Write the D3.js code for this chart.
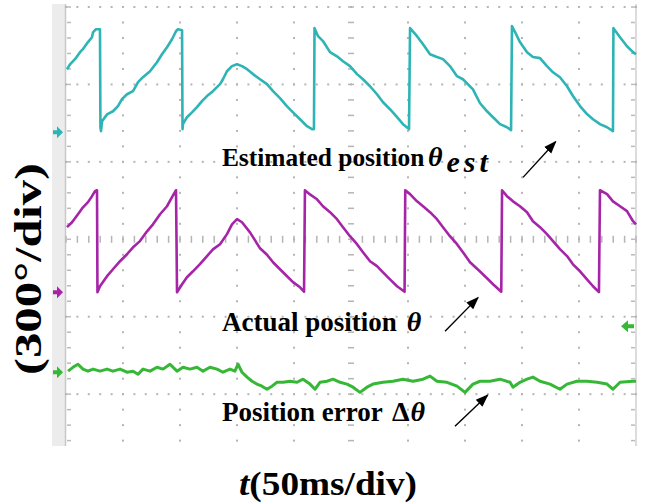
<!DOCTYPE html>
<html><head><meta charset="utf-8">
<script src="https://cdn.jsdelivr.net/npm/d3@7"></script>
<style>body{margin:0;background:#fff}svg{display:block}</style>
</head><body>
<svg id="c" width="645" height="503"></svg>
<script>
// time axis: 50 ms/div, angle axis: 300 deg/div
const timeTicks = [0,50,100,150,200,250,300,350,400,450,500];
const angleTicks = [-600,-300,0,300,600,900];
const timeLabel = "(50ms/div)";
const angleLabel = "(300°/div)";

// channel reference levels (deg on screen)
const cyanOffset = 415, magentaOffset = -205, greenOffset = -515, triggerLevel = -337;

// estimated position [ms, deg]
const thetaEst = [[0.9,244],[3.5,263],[7.9,283],[12.3,310],[14.9,322],[19.3,349],[22.8,368],[23.7,387],[26.3,399],[29.8,399],
[30.2,19],[30.7,4],
[31.6,42],[36.0,69],[41.2,81],[45.6,101],[49.1,128],[53.5,147],[58.8,159],[63.2,194],[67.5,213],[73.7,236],[79.8,271],[84.2,302],[88.6,329],[93.0,360],[96.5,391],[98.2,399],[101.8,395],
[102.2,12],
[102.6,31],[106.1,58],[110.5,77],[114.9,97],[119.3,120],[123.7,140],[128.9,159],[135.1,186],[137.7,205],[141.2,236],[145.6,256],[150.0,263],[154.4,256],[158.8,244],[164.0,225],[170.2,205],[176.3,186],[181.6,159],[187.7,132],[193.9,100],[199.1,77],[205.3,50],[211.4,23],[215.8,12],[217.5,12],
[218.0,403],
[221.1,372],[225.4,353],[231.6,310],[237.7,294],[243.0,275],[249.1,256],[255.3,225],[260.5,205],[266.7,178],[272.8,147],[278.1,116],[284.2,89],[290.4,58],[295.6,31],[300.9,12],
[301.8,403],
[307.9,372],[313.2,341],[319.3,302],[325.4,291],[330.7,283],[336.8,256],[343.0,217],[348.2,205],[357.0,166],[363.2,112],[369.3,81],[374.6,58],[380.7,31],[386.8,19],[390.4,8],
[391.2,411],
[393.9,388],[398.2,349],[404.4,310],[409.6,291],[415.8,287],[421.9,256],[427.2,232],[433.3,213],[439.5,178],[444.7,140],[450.9,101],[457.0,70],[462.3,50],[468.4,31],[474.6,19],[479.8,4],
[480.2,403],
[486.0,368],[492.1,333],[497.4,310],[500,302]];

// actual position [ms, deg]
const thetaAct = [[0.9,252],[5.3,271],[10.5,302],[14.9,329],[19.3,349],[22.8,372],[25.4,391],[27.2,395],
[27.6,0],
[29.8,23],[36.0,62],[41.2,89],[47.4,120],[53.5,147],[58.8,174],[64.9,198],[71.1,236],[76.3,263],[82.5,302],[88.6,333],[93.0,368],[96.5,395],
[97.4,0],
[101.8,31],[106.1,58],[111.4,81],[117.5,109],[123.7,140],[128.9,166],[135.1,186],[141.2,225],[145.6,263],[150.0,283],[154.4,271],[161.4,232],[170.2,170],[176.3,145],[181.6,116],[187.7,89],[193.9,62],[199.1,39],[205.3,19],[208.8,2],
[209.6,395],
[214.0,379],[220.2,360],[225.4,333],[231.6,310],[237.7,283],[243.0,252],[249.1,217],[255.3,186],[260.5,155],[266.7,120],[272.8,101],[278.1,77],[284.2,50],[290.4,23],[297.0,2],
[297.6,395],
[301.8,380],[307.9,352],[313.2,333],[319.3,310],[325.4,283],[330.7,252],[336.8,217],[343.0,186],[348.2,155],[354.4,116],[363.2,80],[369.3,54],[374.6,31],[381.8,2],
[382.5,395],
[386.8,372],[392.1,352],[398.2,333],[404.4,310],[409.6,275],[415.8,252],[421.9,225],[427.2,198],[433.3,167],[439.5,140],[444.7,108],[450.9,81],[457.0,50],[462.3,23],[467.5,0],
[468.4,395],
[474.6,380],[479.8,352],[486.0,333],[492.1,314],[497.4,275],[500,263]];

// position error [ms, deg]
const thetaErr = [[1.8,4],[6.1,19],[10.5,31],[14.9,12],[19.3,4],[23.7,12],[29.8,4],[36.0,12],[41.2,4],[47.4,12],[53.5,0],[58.8,4],[63.2,-8],[67.5,12],[73.7,4],[79.8,19],[85.1,12],[91.2,31],[97.4,4],[102.6,19],[108.8,12],[114.9,19],[120.2,4],[126.3,19],[132.5,12],[137.7,0],[143.9,12],[148.2,4],[150.9,31],[154.4,0],[158.8,-19],[163.2,-35],[167.5,-46],[171.9,-54],[176.3,-66],[180.7,-54],[185.1,-39],[190.4,-39],[196.5,-35],[202.6,-39],[207.9,-27],[214.0,-46],[218.4,-66],[222.8,-39],[228.9,-35],[234.2,-27],[240.4,-39],[246.5,-46],[251.8,-58],[257.9,-78],[264.0,-58],[269.3,-46],[278.1,-39],[286.8,-35],[295.6,-27],[304.4,-35],[313.2,-27],[319.3,-15],[325.4,-35],[334.2,-39],[343.0,-54],[350.0,-78],[357.0,-46],[363.2,-35],[371.9,-35],[380.7,-27],[389.5,-39],[392.1,-58],[398.2,-39],[404.4,-27],[409.6,-19],[415.8,-35],[424.6,-46],[433.3,-66],[439.5,-46],[448.2,-35],[457.0,-35],[465.8,-39],[474.6,-46],[479.8,-66],[486.0,-39],[497.4,-35],[500,-35]];

// annotations in data units
const labels = [
  {t:136.8, a:283, main:"Estimated position", size:25.4, symT:317.5, sym:"θ", sub:"est"},
  {t:136.8, a:-356, main:"Actual position", size:27, symT:299, sym:"θ"},
  {t:136.8, a:-705, main:"Position error", size:27, symT:286, pre:"Δ", sym:"θ"}
];
const arrows = [
  {t0:400.9, a0:240, t1:429.5, a1:378},
  {t0:332.5, a0:-356, t1:361.4, a1:-226},
  {t0:341.2, a0:-724, t1:369.8, a1:-604}
];

const svg = d3.select("#c");
const x = d3.scaleLinear().domain([0,500]).range([66,636]);
const y = d3.scaleLinear().domain([-797,900]).range([445,7]);

// frame
svg.append("rect").attr("x",52).attr("y",4).attr("width",13).attr("height",442).attr("fill","#ececec");
svg.append("line").attr("x1",x(0)-0.5).attr("x2",x(0)-0.5).attr("y1",4).attr("y2",446).attr("stroke","#c8c8c8").attr("stroke-width",1.5);
svg.append("line").attr("x1",x(500)).attr("x2",x(500)).attr("y1",4).attr("y2",446).attr("stroke","#d0d0d0").attr("stroke-width",1.5);

const g = svg.append("g");
const minorA = d3.range(-780, 901, 60);
const minorT = d3.range(0, 501, 10);
timeTicks.slice(1,-1).forEach(t => {
  minorA.forEach(a => {
    if (t === 250) g.append("rect").attr("x",x(t)-3).attr("y",y(a)-0.75).attr("width",6).attr("height",1.5).attr("fill","#b5b5b5");
    else g.append("rect").attr("x",x(t)-1).attr("y",y(a)-1).attr("width",2).attr("height",2).attr("fill","#b5b5b5");
  });
});
angleTicks.forEach(a => {
  minorT.forEach(t => {
    if (a === 0) g.append("rect").attr("x",x(t)-0.75).attr("y",y(a)-3.5).attr("width",1.5).attr("height",7).attr("fill","#b5b5b5");
    else g.append("rect").attr("x",x(t)-1).attr("y",y(a)-1).attr("width",2).attr("height",2).attr("fill","#b5b5b5");
  });
});
minorA.forEach(a => {
  g.append("rect").attr("x",x(0)+1).attr("y",y(a)-0.75).attr("width",4).attr("height",1.5).attr("fill","#bbb");
  g.append("rect").attr("x",x(500)-5).attr("y",y(a)-0.75).attr("width",4).attr("height",1.5).attr("fill","#bbb");
});

// traces
const line = off => d3.line().x(d => x(d[0])).y(d => y(d[1] + off));
svg.append("path").datum(thetaEst).attr("d", line(cyanOffset)).attr("fill","none").attr("stroke","#2eb4b4").attr("stroke-width",2.6).attr("stroke-linejoin","round");
svg.append("path").datum(thetaAct).attr("d", line(magentaOffset)).attr("fill","none").attr("stroke","#a524a8").attr("stroke-width",2.6).attr("stroke-linejoin","round");
svg.append("path").datum(thetaErr).attr("d", line(greenOffset)).attr("fill","none").attr("stroke","#36b836").attr("stroke-width",3).attr("stroke-linejoin","round");

// channel markers
const mk = "M-5,-2 h4 v-4 l6,6 l-6,6 v-4 h-4 z";
[[cyanOffset,"#2eb4b4"],[magentaOffset,"#a524a8"],[greenOffset,"#36b836"]].forEach(([o,c]) => {
  svg.append("path").attr("d", mk).attr("transform",`translate(${x(0)-8},${y(o)})`).attr("fill",c);
});
svg.append("path").attr("d","M-7,0 l7,-6 v4 h6 v4 h-6 v4 z").attr("transform",`translate(${x(500)-8},${y(triggerLevel)})`).attr("fill","#36b836");

// labels
const font = "'Liberation Serif','Times New Roman',serif";
const txt = (tx, ty, s) => svg.append("text").attr("x", tx).attr("y", ty)
  .attr("font-family", font).attr("font-weight","bold").attr("font-size",s).attr("fill","#000");
labels.forEach(l => {
  txt(x(l.t), y(l.a), l.size).text(l.main);
  const s = txt(x(l.symT), y(l.a), 28);
  if (l.pre) s.append("tspan").text(l.pre);
  s.append("tspan").attr("font-style","italic").attr("dx", l.pre ? 1 : 0).text(l.sym);
  if (l.sub) s.append("tspan").attr("font-style","italic").attr("font-size",30).attr("dx",4).attr("dy",6)
    .attr("letter-spacing",4).text(l.sub);
});

// arrows
svg.append("defs").append("marker").attr("id","ah").attr("viewBox","0 0 10 10").attr("refX",9).attr("refY",5)
  .attr("markerWidth",13).attr("markerHeight",13).attr("markerUnits","userSpaceOnUse").attr("orient","auto")
  .append("path").attr("d","M0,1.3 L10,5 L0,8.7 z").attr("fill","#000");
arrows.forEach(a => {
  svg.append("line").attr("x1",x(a.t0)).attr("y1",y(a.a0)).attr("x2",x(a.t1)).attr("y2",y(a.a1))
    .attr("stroke","#000").attr("stroke-width",1.4).attr("marker-end","url(#ah)");
});

// axis titles
const xt = txt(239, 495, 34).attr("textLength",178).attr("lengthAdjust","spacingAndGlyphs");
xt.append("tspan").attr("font-style","italic").text("t");
xt.append("tspan").text(timeLabel);

svg.append("text").attr("transform",`translate(41,${y(-115)}) rotate(-90)`).attr("text-anchor","middle")
  .attr("font-family", font).attr("font-weight","bold").attr("font-size",38).attr("fill","#000")
  .attr("textLength",212).attr("lengthAdjust","spacingAndGlyphs").text(angleLabel);
</script>
</body></html>
